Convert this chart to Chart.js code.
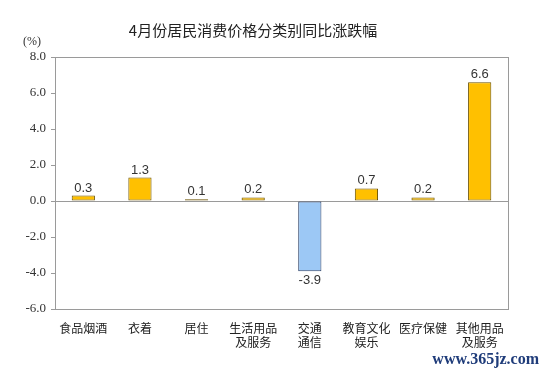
<!DOCTYPE html>
<html>
<head>
<meta charset="utf-8">
<script src="https://cdn.jsdelivr.net/npm/chart.js@4"></script>
<style>
  html, body { margin: 0; padding: 0; background: #fff; }
  #wrap { width: 546px; height: 374px; position: relative; }
</style>
</head>
<body>
<div id="wrap"><canvas id="cpiChart" width="546" height="374"></canvas></div>
<script>
// --- Données ---
const categories = [
  ["食品烟酒"], ["衣着"], ["居住"], ["生活用品", "及服务"],
  ["交通", "通信"], ["教育文化", "娱乐"], ["医疗保健"], ["其他用品", "及服务"]
];
const values = [0.3, 1.3, 0.1, 0.2, -3.9, 0.7, 0.2, 6.6];
const yTicks = [-6, -4, -2, 0, 2, 4, 6, 8];

const TITLE = "4月份居民消费价格分类别同比涨跌幅";
const UNIT = "(%)";
const WATERMARK = "www.365jz.com";

// --- Plugin : cadre, titre, étiquettes de valeurs ---
const decor = {
  id: "decor",
  afterDatasetsDraw(chart) {
    const { ctx, chartArea: a } = chart;
    ctx.save();
    ctx.strokeStyle = "#9a9a9a";
    ctx.lineWidth = 1;
    ctx.strokeRect(a.left + 0.5, a.top + 0.5, a.right - a.left, a.bottom - a.top);

    // valeurs au-dessus / en-dessous des barres
    const meta = chart.getDatasetMeta(0);
    ctx.font = "13px 'Liberation Sans', Arial, sans-serif";
    ctx.fillStyle = "#333";
    ctx.textAlign = "center";
    meta.data.forEach((bar, i) => {
      const v = values[i];
      if (v >= 0) {
        ctx.textBaseline = "bottom";
        ctx.fillText(v.toFixed(1), bar.x, bar.y - 1);
      } else {
        ctx.textBaseline = "top";
        ctx.fillText(v.toFixed(1), bar.x, bar.y + 3);
      }
    });

    // titre
    ctx.font = "15px 'Noto Sans CJK SC', sans-serif";
    ctx.fillStyle = "#222";
    ctx.textBaseline = "middle";
    ctx.fillText(TITLE, 253, 30);

    // unité
    ctx.font = "12px 'Liberation Serif', serif";
    ctx.fillStyle = "#333";
    ctx.fillText(UNIT, 32, 42);

    // filigrane
    ctx.font = "bold 16px 'Liberation Serif', serif";
    ctx.fillStyle = "#1f3c7a";
    ctx.textAlign = "right";
    ctx.fillText(WATERMARK, 539, 360);
    ctx.restore();
  }
};

new Chart(document.getElementById("cpiChart"), {
  type: "bar",
  data: {
    labels: categories,
    datasets: [{
      data: values,
      backgroundColor: values.map(v => v < 0 ? "#9cc8f5" : "#ffc000"),
      borderColor: values.map(v => v < 0 ? "#2b3f66" : "#6b5200"),
      borderWidth: 1,
      borderSkipped: false,
      categoryPercentage: 1,
      barPercentage: 0.41
    }]
  },
  options: {
    responsive: false,
    animation: false,
    devicePixelRatio: 1,
    layout: { padding: { top: 57, right: 38, left: 0, bottom: 0 } },
    plugins: {
      legend: { display: false },
      title: { display: false },
      tooltip: { enabled: false }
    },
    scales: {
      x: {
        grid: { display: false },
        border: { display: false },
        ticks: {
          font: { size: 12, family: "'Noto Sans CJK SC', sans-serif" },
          color: "#222",
          maxRotation: 0,
          autoSkip: false,
          padding: 4
        },
        afterFit(scale) { scale.height = 65; }
      },
      y: {
        min: -6,
        max: 8,
        afterBuildTicks(scale) { scale.ticks = yTicks.map(v => ({ value: v })); },
        grid: {
          color: c => c.tick && c.tick.value === 0 ? "#9a9a9a" : "rgba(0,0,0,0)",
          tickColor: "#9a9a9a",
          tickLength: 4,
          lineWidth: 1
        },
        border: { display: false },
        ticks: {
          callback: v => v.toFixed(1),
          font: { size: 13, family: "'Liberation Serif', serif" },
          color: "#333",
          padding: 5
        },
        afterFit(scale) { scale.width = 55; }
      }
    }
  },
  plugins: [decor]
});
</script>
</body>
</html>
